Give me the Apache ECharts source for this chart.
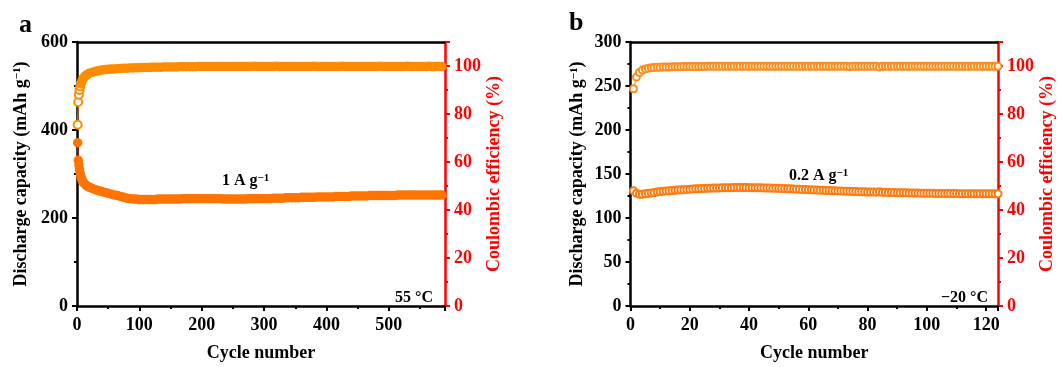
<!DOCTYPE html>
<html><head><meta charset="utf-8">
<script src="https://cdn.jsdelivr.net/npm/echarts@6/dist/echarts.min.js"></script>
<style>html,body{margin:0;padding:0;background:#fff;overflow:hidden}#c{width:1062px;height:367px}</style>
</head><body><div id="c"></div>
<script>
// ---- Panel a (55 °C, 1 A g-1) ----
const cycA = [1,2,3,4,5,6,7,8,9,10,12,14,16,18,20,
25,30,35,40,45,50,55,60,65,70,75,80,85,90,95,100,
105,110,115,120,125,130,135,140,145,150,
155,160,165,170,175,180,185,190,195,200,
205,210,215,220,225,230,235,240,245,250,
255,260,265,270,275,280,285,290,295,300,
305,310,315,320,325,330,335,340,345,350,
355,360,365,370,375,380,385,390,395,400,
405,410,415,420,425,430,435,440,445,450,
455,460,465,470,475,480,485,490,495,500,
505,510,515,520,525,530,535,540,545,550,
555,560,565,570,575,580,585];
const ceA = [75.5,85.0,88.0,90.0,91.5,92.5,93.2,93.8,94.3,94.8,95.5,96.0,96.4,96.7,97.0,
97.4,97.8,98.1,98.3,98.5,98.6,98.7,98.8,98.9,99.0,99.1,99.1,99.2,99.2,99.3,99.3,
99.4,99.4,99.4,99.5,99.5,99.5,99.5,99.6,99.6,99.6,
99.6,99.6,99.7,99.7,99.7,99.7,99.7,99.7,99.8,99.8,
99.8,99.8,99.8,99.8,99.8,99.8,99.8,99.8,99.8,99.8,
99.8,99.8,99.8,99.8,99.8,99.8,99.9,99.8,99.8,99.8,
99.8,99.8,99.8,99.9,99.8,99.8,99.8,99.8,99.8,99.8,
99.8,99.8,99.8,99.8,99.8,99.9,99.8,99.8,99.8,99.8,
99.8,99.8,99.8,99.8,99.9,99.8,99.8,99.8,99.8,99.8,
99.8,99.8,99.8,99.8,99.8,99.8,99.9,99.8,99.8,99.8,
99.8,99.8,99.8,99.8,99.8,99.9,99.8,99.8,99.8,99.8,
99.8,99.8,99.9,99.7,99.8,99.8,99.8];
const capA = [371,331,320,310,302,296,291,287,284,281,278,275,273,271,270,
267,264,262,260,258,256,254,252,251,249,247,245,244,243,243,242,
242,242,242,242,242,243,243,243,243,243,
243,243,243,244,244,244,244,244,244,244,
244,244,244,244,244,244,243,243,243,243,
243,243,243,243,244,244,244,244,244,244,
244,244,245,245,245,245,246,246,246,246,
246,247,247,247,247,247,248,248,248,248,
248,248,249,249,249,249,249,250,250,250,
250,250,250,251,251,251,251,251,251,251,
251,251,252,252,252,252,252,252,252,252,
252,252,252,252,252,252,252];

// ---- Panel b (-20 °C, 0.2 A g-1) ----
const cycB = [1,2,3,4,5,6,7,8,9,10,11,12,13,14,15,16,17,18,19,20,
21,22,23,24,25,26,27,28,29,30,31,32,33,34,35,36,37,38,39,40,
41,42,43,44,45,46,47,48,49,50,51,52,53,54,55,56,57,58,59,60,
61,62,63,64,65,66,67,68,69,70,71,72,73,74,75,76,77,78,79,80,
81,82,83,84,85,86,87,88,89,90,91,92,93,94,95,96,97,98,99,100,
101,102,103,104,105,106,107,108,109,110,111,112,113,114,115,116,117,118,119,120,
121,122,123,124];
const ceB = [90.5,95.4,97.3,98.3,98.8,99.1,99.3,99.4,99.5,99.5,
99.6,99.6,99.6,99.7,99.7,99.7,99.7,99.8,99.8,99.8,
99.8,99.8,99.8,99.8,99.8,99.9,99.9,99.9,99.9,99.9,
99.9,99.9,99.9,99.9,99.9,99.9,99.9,99.9,99.9,99.9,
99.9,99.9,99.9,99.9,99.9,99.9,99.9,99.9,99.9,99.9,
99.9,99.9,99.9,99.9,99.9,99.9,99.9,99.9,99.9,99.9,
99.9,99.9,99.9,99.9,99.9,99.9,99.9,99.9,99.9,99.9,
99.9,99.9,99.9,99.7,99.9,99.9,99.9,99.9,99.9,99.9,
99.9,99.9,99.9,99.6,99.9,99.9,99.9,99.9,99.9,99.9,
99.9,99.9,99.9,99.9,99.9,99.9,99.9,99.9,99.9,99.9,
99.9,99.9,99.9,99.9,99.9,99.9,99.9,99.9,99.9,99.9,
99.9,99.9,99.9,99.9,99.9,99.9,99.9,99.9,99.9,99.9,
99.9,99.9,99.9,99.9];
const capB = [131,128,127,127,127.5,128,128.5,129,129.5,130,
130.3,130.6,131,131.2,131.5,131.8,132,132.2,132.5,132.7,
132.9,133.1,133.3,133.5,133.6,133.8,133.9,134,134.1,134.2,
134.3,134.4,134.5,134.5,134.6,134.6,134.6,134.6,134.6,134.5,
134.5,134.4,134.4,134.3,134.2,134.1,134,133.9,133.8,133.7,
133.5,133.4,133.3,133.1,133,132.8,132.7,132.5,132.4,132.2,
132.1,131.9,131.8,131.6,131.5,131.3,131.2,131,130.9,130.8,
130.6,130.5,130.4,130.3,130.1,130,129.9,129.8,129.7,129.6,
129.5,129.5,129.4,129.8,129.3,129.2,129.1,129,128.9,128.8,
128.7,128.6,128.6,128.5,128.4,128.3,128.3,128.2,128.1,128.1,
128,128,127.9,127.9,127.8,127.8,127.8,127.7,127.7,127.7,
127.6,127.6,127.6,127.6,127.5,127.5,127.5,127.5,127.5,127.5,
127.5,127.5,127.6,127.6];

const ticksA = {min:0, max:590, interval:100};
const ticksB = {min:0, max:124, interval:20};
const capAxisA = {min:0, max:600, interval:200};
const capAxisB = {min:0, max:300, interval:50};
const ceAxis = {min:0, max:110, interval:20};

const FONT = '"Liberation Serif","Times New Roman",serif';
const lbl = (c) => ({color:c, fontFamily:FONT, fontWeight:'bold', fontSize:18, margin:9});
const nameStyle = (c) => ({color:c, fontFamily:FONT, fontWeight:'bold', fontSize:18,
  rich:{sup:{color:c, fontFamily:FONT, fontWeight:'bold', fontSize:11, verticalAlign:'top', padding:[0,0,6,0]}}});
const line = (c) => ({show:true, onZero:false, lineStyle:{color:c, width:2.5}});
const tick = (c) => ({show:true, inside:false, length:5, lineStyle:{color:c, width:2}});
const minor = (c) => ({show:true, splitNumber:2, length:3, lineStyle:{color:c, width:2}});

function xAxes(grid, t) {
  return [
    {type:'value', gridIndex:grid, position:'bottom', min:t.min, max:t.max, interval:t.interval,
     axisLine:line('#000'), axisTick:tick('#000'), minorTick:minor('#000'), splitLine:{show:false},
     axisLabel:Object.assign(lbl('#000'), {showMaxLabel:false, margin:10}),
     name:'Cycle number', nameLocation:'middle', nameGap:38, nameTextStyle:nameStyle('#000')},
    {type:'value', gridIndex:grid, position:'top', min:t.min, max:t.max,
     axisLine:line('#000'), axisTick:{show:false}, axisLabel:{show:false}, splitLine:{show:false}}
  ];
}
function yAxes(grid, t, gapL, gapR) {
  return [
    {type:'value', gridIndex:grid, position:'left', min:t.min, max:t.max, interval:t.interval,
     axisLine:line('#000'), axisTick:tick('#000'), minorTick:minor('#000'), splitLine:{show:false},
     axisLabel:lbl('#000'),
     name:'Discharge capacity (mAh g{sup|\u22121})', nameLocation:'middle', nameGap:gapL, nameTextStyle:nameStyle('#000')},
    {type:'value', gridIndex:grid, position:'right', min:ceAxis.min, max:ceAxis.max, interval:ceAxis.interval,
     axisLine:line('#FF0000'), axisTick:tick('#FF0000'), minorTick:minor('#FF0000'), splitLine:{show:false},
     axisLabel:Object.assign(lbl('#FF0000'), {showMaxLabel:false}),
     name:'Coulombic efficiency (%)', nameLocation:'middle', nameGap:gapR, nameTextStyle:nameStyle('#FF0000')}
  ];
}
// data items; the first `nOpen` points drawn as open circles, the rest filled
const items = (xs, ys, nOpen) => xs.map((x, i) => i < nOpen
  ? {value:[x, ys[i]], symbol:'emptyCircle'}
  : {value:[x, ys[i]]});

function ser(xi, yi, data, col, lineCol, size, bw, sym) {
  return {type:'line', xAxisIndex:xi, yAxisIndex:yi, data:data,
    symbol:sym, symbolSize:size, showSymbol:true, animation:false,
    itemStyle:{color:col, borderColor:col, borderWidth:bw},
    lineStyle:{color:lineCol, width:1}, emphasis:{disabled:true}, z:3};
}

const supRich = {sup:{fontSize:11, fontWeight:'bold', fontFamily:FONT, verticalAlign:'top', padding:[0,0,5,0]}};

const chart = echarts.init(document.getElementById('c'), null, {renderer:'canvas', width:1062, height:367});
chart.setOption({
  backgroundColor:'#fff',
  animation:false,
  grid:[
    {left:77, width:368, top:42, height:270},
    {left:630.5, width:367.5, top:42, height:270}
  ],
  xAxis:[...xAxes(0, ticksA), ...xAxes(1, ticksB)],
  yAxis:[...yAxes(0, capAxisA, 47, 36), ...yAxes(1, capAxisB, 44, 36)],
  series:[
    ser(0, 1, items(cycA, ceA, 5), '#FF8C00', '#FF8C00', 8, 1.5, 'circle'),
    ser(0, 0, items(cycA, capA, 0), '#FF7400', '#FF0000', 8, 1.5, 'circle'),
    ser(2, 3, items(cycB, ceB, 0), '#FF8C1A', '#FF8C1A', 7, 1.2, 'emptyCircle'),
    ser(2, 2, items(cycB, capB, 0), '#FF7A10', '#FF7A10', 7, 1.6, 'emptyCircle')
  ],
  graphic:[
    {type:'text', left:19, top:12, style:{text:'a', fill:'#000', font:'bold 26px ' + FONT}},
    {type:'text', left:569, top:10, style:{text:'b', fill:'#000', font:'bold 26px ' + FONT}},
    {type:'text', left:222, top:173, style:{text:'1 A g{sup|\u22121}', fill:'#000', font:'bold 16px ' + FONT, rich:supRich}},
    {type:'text', left:789, top:168, style:{text:'0.2 A g{sup|\u22121}', fill:'#000', font:'bold 16px ' + FONT, rich:supRich}},
    {type:'text', left:395, top:290, style:{text:'55 \u00B0C', fill:'#000', font:'bold 16px ' + FONT}},
    {type:'text', left:941, top:290, style:{text:'\u221220 \u00B0C', fill:'#000', font:'bold 16px ' + FONT}}
  ]
});
</script></body></html>
